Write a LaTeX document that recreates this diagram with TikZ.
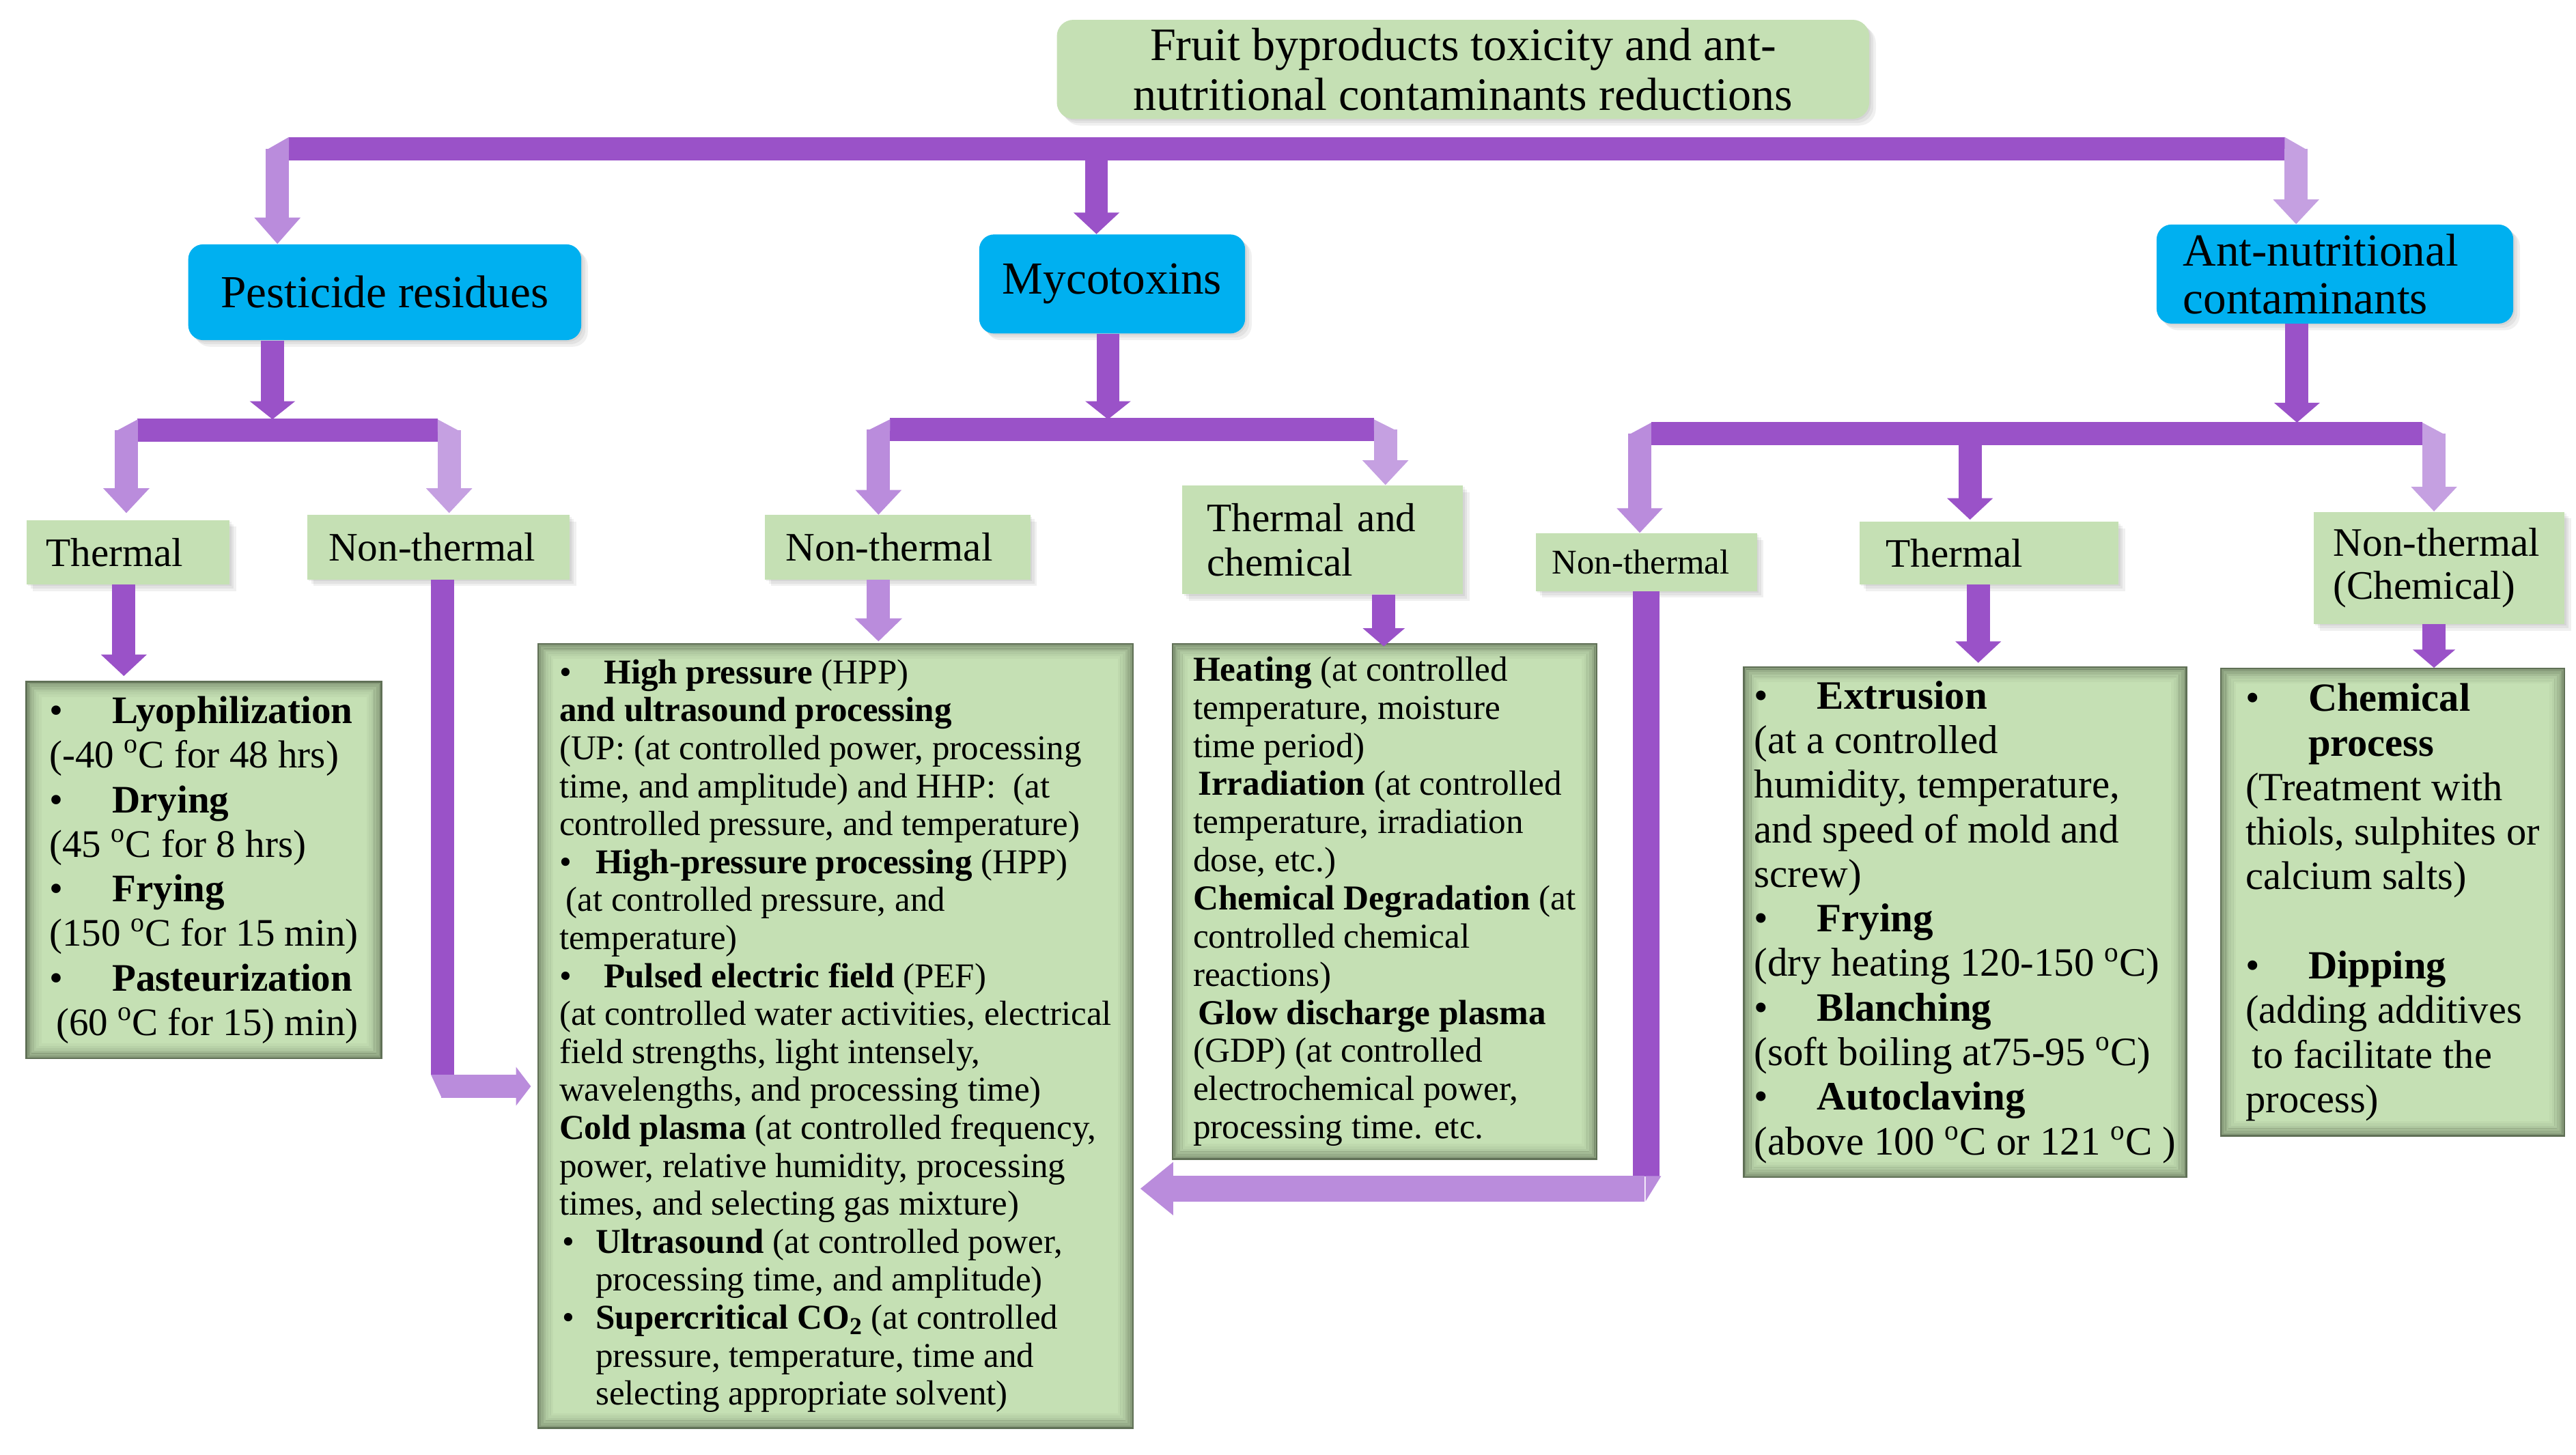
\documentclass[tikz,border=0pt]{standalone}
\usepackage{fontspec}
\setmainfont{Liberation Serif}
\usetikzlibrary{arrows.meta,shadows,calc}
\definecolor{pdark}{RGB}{154,82,200}
\definecolor{plight}{RGB}{186,140,220}
\definecolor{plighter}{RGB}{197,160,225}
\definecolor{bbox}{RGB}{0,176,240}
\definecolor{gbox}{RGB}{197,224,180}
\definecolor{bev}{RGB}{96,112,86}
\newcommand{\mybul}{\makebox[38pt][l]{•}}
\newcommand{\mybulb}{\makebox[27pt][l]{•}}
\newcommand{\mybulc}{\makebox[22pt][l]{•}}
\newcommand{\dg}{\textsuperscript{o}}
\begin{document}
\begin{tikzpicture}[x=1pt,y=-1pt,
  shad/.style={general shadow={fill=black,opacity=.06,shadow xshift=4pt,shadow yshift=-4pt},
               general shadow={fill=black,opacity=.06,shadow xshift=2.5pt,shadow yshift=-2.5pt},
               general shadow={fill=black,opacity=.06,shadow xshift=1pt,shadow yshift=-1pt}},
  titlebox/.style={fill=gbox,rounded corners=10pt,minimum width=492pt,minimum height=60pt,
               align=center,inner sep=0pt,font=\fontsize{28.2}{30}\selectfont,shad},
  bluebox/.style={fill=bbox,rounded corners=9pt,inner sep=0pt,font=\fontsize{27.8}{29}\selectfont,shad},
  lbl/.style={fill=gbox,inner xsep=14pt,inner ysep=0pt,align=left,font=\fontsize{24.5}{27}\selectfont,shad},
  bevel/.style={path picture={
     \foreach \k/\o in {0/0.6,1/0.45,2/0.32,3/0.2,4/0.12,5/0.06}{
       \pgfmathsetmacro\dd{0.8+1.5*\k}
       \draw[bev,opacity=\o,line width=1.6pt]
         ($(path picture bounding box.north west)+({\dd*1pt},{-\dd*1pt})$) rectangle
         ($(path picture bounding box.south east)+({-\dd*1pt},{\dd*1pt})$);
     }}},
  detbox/.style={fill=gbox,draw=bev,line width=1pt,bevel,align=left,inner sep=0pt},
  barS/.style={draw=pdark,line width=14pt},
  shaftD/.style={draw=pdark,line width=14pt},
  arrD/.style={draw=pdark,line width=14pt,-{Triangle[length=13pt,width=27pt]}},
  arrL/.style={draw=plight,line width=14pt,-{Triangle[length=15pt,width=27pt]}},
  arrLL/.style={draw=plighter,line width=14pt,-{Triangle[length=15pt,width=27pt]}},
  arrH/.style={draw=plight,line width=14pt,-{Triangle[length=9pt,width=23pt]}},
  arrH2/.style={draw=plight,line width=15.5pt,-{Triangle[length=20pt,width=31pt]}}
]
\useasboundingbox (0,0) rectangle (1560,881);

% ---------- top level ----------
\node[titlebox] (t) at (886,42) {Fruit byproducts toxicity and ant-\\nutritional contaminants reductions};
\node[bluebox,minimum width=238pt,minimum height=58pt] (p) at (233,177) {Pesticide residues};
\node[bluebox,minimum width=161pt,minimum height=60pt] (m) at (673.5,172) {Mycotoxins};
\node[bluebox,minimum width=216pt,minimum height=60pt,align=left,text width=184pt,inner xsep=16pt] (a) at (1414,166) {\mbox{Ant-nutritional}\\\mbox{contaminants}};

% ---------- second level labels ----------
\node[lbl,text width=99pt,inner xsep=12pt,minimum height=39pt] (pT) at (77.5,334.5) {Thermal};
\node[lbl,text width=133pt,inner xsep=13pt,minimum height=39pt] (pNT) at (265.5,331.5) {Non-thermal};
\node[lbl,text width=135pt,inner xsep=13pt,minimum height=39pt] (mNT) at (543.5,331.5) {Non-thermal};
\node[lbl,text width=140pt,inner xsep=15pt,minimum height=66pt] (tc) at (801,327) {\mbox{Thermal and}\\\mbox{chemical}};
\node[lbl,text width=114pt,inner xsep=10pt,minimum height=35pt,font=\fontsize{21}{24}\selectfont] (aNT) at (997,340.5) {Non-thermal};
\node[lbl,text width=125pt,inner xsep=16pt,minimum height=38pt] (aT) at (1204.5,335) {Thermal};
\node[lbl,text width=128pt,inner xsep=12pt,minimum height=68pt,font=\fontsize{24.5}{26}\selectfont] (aC) at (1477,344) {\mbox{Non-thermal}\\\mbox{(Chemical)}};

% ---------- detail boxes ----------
\node[detbox,minimum width=215pt,minimum height=228pt,font=\fontsize{23.6}{27}\selectfont] (lyo) at (123.5,527)
{\mybul\textbf{Lyophilization}\\
(-40 \dg C for 48 hrs)\\
\mybul\textbf{Drying}\\
(45 \dg C for 8 hrs)\\
\mybul\textbf{Frying}\\
(150 \dg C for 15 min)\\
\mybul\textbf{Pasteurization}\\
\hspace*{4pt}(60 \dg C for 15) min)};

\node[detbox,minimum width=360pt,minimum height=475pt,font=\fontsize{21.1}{23}\selectfont] (big) at (506,627.5)
{\mybulb\textbf{High pressure} (HPP)\\
\textbf{and ultrasound processing}\\
(UP: (at controlled power, processing\\
time, and amplitude) and HHP:\ \ (at\\
controlled pressure, and temperature)\\
\mybulc\textbf{High-pressure processing} (HPP)\\
\hspace*{4pt}(at controlled pressure, and\\
temperature)\\
\mybulb\textbf{Pulsed electric field} (PEF)\\
(at controlled water activities, electrical\\
field strengths, light intensely,\\
wavelengths, and processing time)\\
\textbf{Cold plasma} (at controlled frequency,\\
power, relative humidity, processing\\
times, and selecting gas mixture)\\
\hspace*{2pt}\makebox[20pt][l]{•}\textbf{Ultrasound} (at controlled power,\\
\hspace*{22pt}processing time, and amplitude)\\
\hspace*{2pt}\makebox[20pt][l]{•}\textbf{Supercritical CO\textsubscript{2}} (at controlled\\
\hspace*{22pt}pressure, temperature, time and\\
\hspace*{22pt}selecting appropriate solvent)};

\node[detbox,minimum width=257pt,minimum height=312pt,font=\fontsize{21.2}{23.1}\selectfont] (tcd) at (838.5,546)
{\textbf{Heating} (at controlled\\
temperature, moisture\\
time period)\\
\hspace*{3pt}\textbf{Irradiation} (at controlled\\
temperature, irradiation\\
dose, etc.)\\
\textbf{Chemical Degradation} (at\\
controlled chemical\\
reactions)\\
\hspace*{3pt}\textbf{Glow discharge plasma}\\
(GDP) (at controlled\\
electrochemical power,\\
processing time. etc.};

\node[detbox,minimum width=268pt,minimum height=309pt,font=\fontsize{24.4}{27}\selectfont] (ext) at (1190,558.5)
{\mybul\textbf{Extrusion}\\
(at a controlled\\
humidity, temperature,\\
and speed of mold and\\
screw)\\
\mybul\textbf{Frying}\\
(dry heating 120-150 \dg C)\\
\mybul\textbf{Blanching}\\
(soft boiling at75-95 \dg C)\\
\mybul\textbf{Autoclaving}\\
(above 100 \dg C or 121 \dg C )};

\node[detbox,minimum width=208pt,minimum height=283pt,font=\fontsize{24.2}{27}\selectfont] (chem) at (1449,546.5)
{\mybul\textbf{Chemical}\\
\hspace*{38pt}\textbf{process}\\
(Treatment with\\
thiols, sulphites or\\
calcium salts)\\
\mbox{}\\
\mybul\textbf{Dipping}\\
(adding additives\\
\hspace*{4pt}to facilitate the\\
process)};

% ---------- coordinates ----------
\coordinate (b1l) at (175,90);   \coordinate (b1r) at (1384,90);
\coordinate (c1a) at (168,90);   \coordinate (c1b) at (664,90);  \coordinate (c1c) at (1390.5,90);
\coordinate (b2l) at (83,260.5); \coordinate (b2r) at (265,260.5);
\coordinate (c2p) at (165,254);  \coordinate (c2a) at (76.5,260.5); \coordinate (c2b) at (272,260.5);
\coordinate (b3l) at (539,260);  \coordinate (b3r) at (832,260);
\coordinate (c3m) at (671,254);  \coordinate (c3a) at (532,260); \coordinate (c3b) at (839,260);
\coordinate (b4l) at (1000,262.5); \coordinate (b4r) at (1467,262.5);
\coordinate (c4m) at (1391,256); \coordinate (c4a) at (993,262.5); \coordinate (c4b) at (1193,262.5); \coordinate (c4c) at (1474,262.5);
\coordinate (xl) at (75,0); \coordinate (xpn) at (268,651); \coordinate (xpnh) at (267,658);
\coordinate (xmn) at (532,0); \coordinate (xtc) at (838,0); \coordinate (xat) at (1198,0); \coordinate (xac) at (1474,0);
\coordinate (xan) at (997,712.5); \coordinate (xanh) at (996,720);

% ---------- bars ----------
\draw[barS] (b1l) -- (b1r);
\draw[barS] (b2l) -- (b2r);
\draw[barS] (b3l) -- (b3r);
\draw[barS] (b4l) -- (b4r);

% ---------- slanted joins of the light arrows ----------
\fill[plight]   ($(c1a)+(-7,1)$) -- ($(c1a)+(7,-7)$) -- ($(c1a)+(7,1)$) -- cycle;
\fill[plighter] ($(c1c)+(-7,-7)$) -- ($(c1c)+(7,1)$) -- ($(c1c)+(-7,1)$) -- cycle;
\fill[plight]   ($(c2a)+(-7,1)$) -- ($(c2a)+(7,-6.5)$) -- ($(c2a)+(7,1)$) -- cycle;
\fill[plighter] ($(c2b)+(-7,-6.5)$) -- ($(c2b)+(7,1)$) -- ($(c2b)+(-7,1)$) -- cycle;
\fill[plight]   ($(c3a)+(-7,1)$) -- ($(c3a)+(7,-6)$) -- ($(c3a)+(7,1)$) -- cycle;
\fill[plighter] ($(c3b)+(-7,-6)$) -- ($(c3b)+(7,1)$) -- ($(c3b)+(-7,1)$) -- cycle;
\fill[plight]   ($(c4a)+(-7,1)$) -- ($(c4a)+(7,-6.5)$) -- ($(c4a)+(7,1)$) -- cycle;
\fill[plighter] ($(c4c)+(-7,-6.5)$) -- ($(c4c)+(7,1)$) -- ($(c4c)+(-7,1)$) -- cycle;

% ---------- level-1 arrows ----------
\draw[arrL,-{Triangle[length=16pt,width=27pt]}] (c1a) -- (c1a |- p.north);
\draw[arrD] ([yshift=-7pt]c1b) -- (c1b |- m.north);
\draw[arrLL] (c1c) -- (c1c |- a.north);

% ---------- pesticide ----------
\draw[arrD,-{Triangle[length=11pt,width=27pt]}] (p.south -| c2p) -- (c2p);
\draw[arrL] (c2a) -- ([yshift=4pt]c2a |- pT.north);
\draw[arrLL] (c2b) -- ([yshift=1pt]c2b |- pNT.north);
\draw[arrD] (pT.south -| xl) -- ([yshift=3pt]xl |- lyo.north);
\draw[shaftD] (pNT.south -| xpn) -- (xpn);
\fill[plight] (261,651) -- (267.5,651) -- (267.5,665) -- cycle;
\draw[arrH,shorten >=4pt] (xpnh) -- (xpnh -| big.west);

% ---------- mycotoxins ----------
\draw[arrD,-{Triangle[length=11pt,width=27pt]}] (m.south -| c3m) -- (c3m);
\draw[arrL] (c3a) -- (c3a |- mNT.north);
\draw[arrLL] (c3b) -- (c3b |- tc.north);
\draw[arrL,-{Triangle[length=14pt,width=28pt]}] (mNT.south -| xmn) -- ([yshift=1pt]xmn |- big.north);
\draw[arrD,-{Triangle[length=11pt,width=25pt]}] (tc.south -| xtc) -- ([yshift=-2pt]xtc |- tcd.north);

% ---------- ant-nutritional ----------
\draw[arrD,-{Triangle[length=12pt,width=27pt]}] (a.south -| c4m) -- (c4m);
\draw[arrL] (c4a) -- (c4a |- aNT.north);
\draw[arrD] (c4b) -- ([yshift=1pt]c4b |- aT.north);
\draw[arrLL] (c4c) -- (c4c |- aC.north);
\draw[arrD,-{Triangle[length=13pt,width=27pt]}] (aT.south -| xat) -- ([yshift=2pt]xat |- ext.north);
\draw[arrD,-{Triangle[length=11pt,width=25pt]}] (aC.south -| xac) -- (xac |- chem.north);
\draw[shaftD,line width=16pt] (aNT.south -| xan) -- (xan);
\fill[plight] (1006,712.3) -- (996.5,727.7) -- (996.5,712.3) -- cycle;
\draw[arrH2,shorten >=4pt] (xanh) -- (xanh -| big.east);
\end{tikzpicture}
\end{document}
